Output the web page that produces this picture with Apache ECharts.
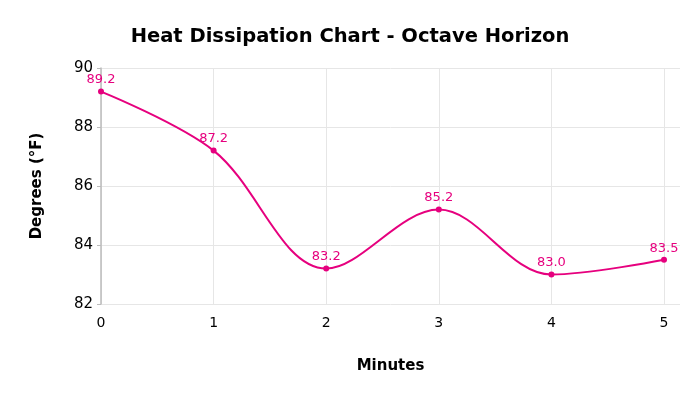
<!DOCTYPE html>
<html><head><meta charset="utf-8">
<script src="https://cdn.jsdelivr.net/npm/echarts@6/dist/echarts.min.js"></script>
<style>html,body{margin:0;padding:0;background:#fff}#c{width:700px;height:394px}</style>
</head><body><div id="c"></div>
<script>
const minutes = [0, 1, 2, 3, 4, 5];
const degrees = [89.2, 87.2, 83.2, 85.2, 83.0, 83.5];
const yTicks = [82, 84, 86, 88, 90];
const FONT = 'DejaVu Sans';
const chart = echarts.init(document.getElementById('c'));
chart.setOption({
  animation: false,
  backgroundColor: '#fff',
  title: {
    text: 'Heat Dissipation Chart - Octave Horizon',
    left: 'center', top: 22,
    textStyle: {fontFamily: FONT, fontSize: 19.5, fontWeight: 'bold', color: '#000'}
  },
  grid: {left: 101, right: 20, top: 68, bottom: 90},
  xAxis: {
    type: 'value', min: 0, max: 5.142, interval: 1,
    name: 'Minutes', nameLocation: 'middle', nameGap: 55,
    nameTextStyle: {fontFamily: FONT, fontSize: 15, fontWeight: 'bold', color: '#000'},
    axisLine: {show: false}, axisTick: {show: false},
    axisLabel: {fontFamily: FONT, fontSize: 14, color: '#000', margin: 12, showMaxLabel: false,
      formatter: v => (minutes.indexOf(v) >= 0 ? String(v) : '')},
    splitLine: {show: true, showMaxLine: false, lineStyle: {color: '#e6e6e6'}}
  },
  yAxis: {
    type: 'value', min: yTicks[0], max: yTicks[yTicks.length - 1], interval: 2,
    name: 'Degrees (°F)', nameLocation: 'middle', nameGap: 56,
    nameTextStyle: {fontFamily: FONT, fontSize: 15, fontWeight: 'bold', color: '#000'},
    axisLine: {show: true, lineStyle: {color: '#bbbbbb', width: 1.5}},
    axisTick: {show: true, length: 4, lineStyle: {color: '#bbbbbb'}},
    axisLabel: {fontFamily: FONT, fontSize: 15, color: '#000', margin: 8},
    splitLine: {show: true, lineStyle: {color: '#e6e6e6'}}
  },
  series: [{
    type: 'line', smooth: 0.35,
    data: minutes.map((m, i) => [m, degrees[i]]),
    symbol: 'circle', symbolSize: 6,
    lineStyle: {color: '#e6007e', width: 2},
    itemStyle: {color: '#e6007e'},
    label: {show: true, position: 'top', distance: 2, fontFamily: FONT, fontSize: 13, color: '#e6007e',
      formatter: p => p.value[1].toFixed(1)}
  }]
});
</script></body></html>
